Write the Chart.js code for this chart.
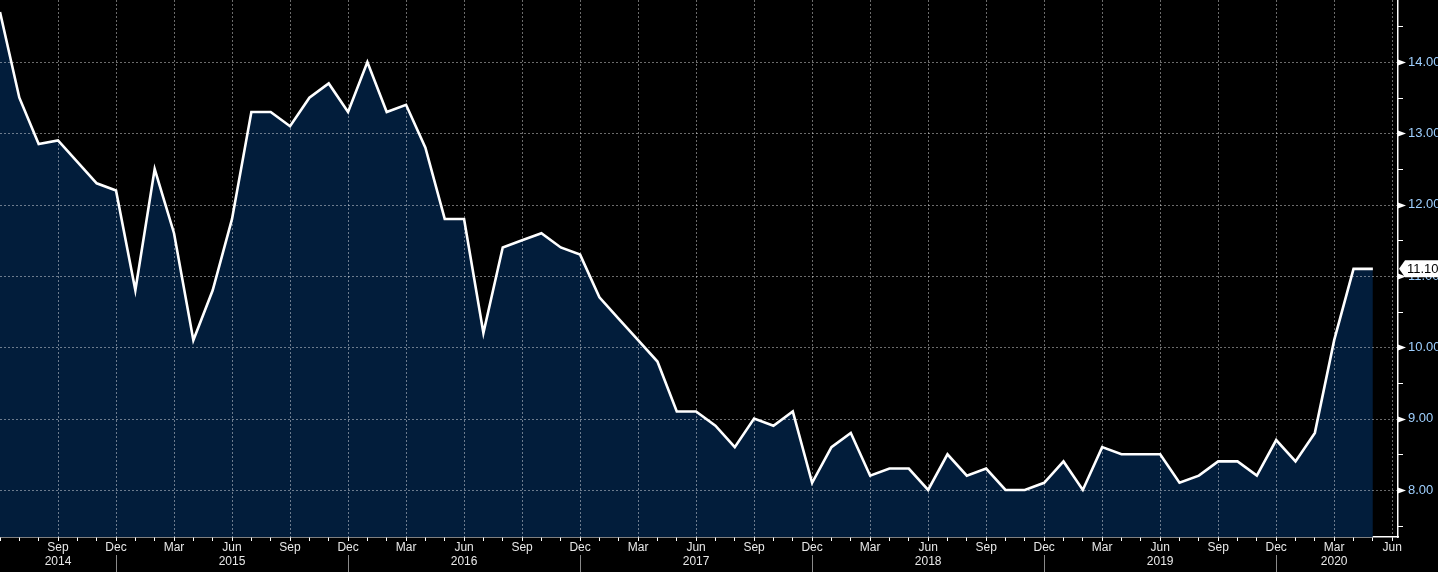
<!DOCTYPE html>
<html><head><meta charset="utf-8">
<script src="https://cdn.jsdelivr.net/npm/chart.js@4.4.1/dist/chart.umd.min.js"></script>
<style>html,body{margin:0;padding:0;background:#000;overflow:hidden}canvas{display:block;background:#000}</style>
</head><body>
<canvas id="c" width="1438" height="572"></canvas>
<script>
const monthNames = ['Jan','Feb','Mar','Apr','May','Jun','Jul','Aug','Sep','Oct','Nov','Dec'];
const startYear = 2014;
const startMonth = 5; // June 2014
const v2014 = [14.7, 13.5, 12.85, 12.9, 12.6, 12.3, 12.2];
const v2015 = [10.8, 12.5, 11.6, 10.1, 10.8, 11.8, 13.3, 13.3, 13.1, 13.5, 13.7, 13.3];
const v2016 = [14.0, 13.3, 13.4, 12.8, 11.8, 11.8, 10.2, 11.4, 11.5, 11.6, 11.4, 11.3];
const v2017 = [10.7, 10.4, 10.1, 9.8, 9.1, 9.1, 8.9, 8.6, 9.0, 8.9, 9.1, 8.1];
const v2018 = [8.6, 8.8, 8.2, 8.3, 8.3, 8.0, 8.5, 8.2, 8.3, 8.0, 8.0, 8.1];
const v2019 = [8.4, 8.0, 8.6, 8.5, 8.5, 8.5, 8.1, 8.2, 8.4, 8.4, 8.2, 8.7];
const v2020 = [8.4, 8.8, 10.1, 11.1, 11.1];
const values = [].concat(v2014, v2015, v2016, v2017, v2018, v2019, v2020);
const categories = values.map((_, i) => {
  const m = startMonth + i;
  return monthNames[m % 12] + ' ' + (startYear + Math.floor(m / 12));
});
const yearLabels = ['2014', '2015', '2016', '2017', '2018', '2019', '2020'];
const yTickValues = [7.5, 8, 8.5, 9, 9.5, 10, 10.5, 11, 11.5, 12, 12.5, 13, 13.5, 14, 14.5];
const lastLabel = values[values.length - 1].toFixed(2);

const X_MAX = 72.3;
const nTicks = 72;
const yearAt = {};
yearLabels.forEach(y => {
  const yr = parseInt(y, 10);
  const a = Math.max(0, (yr - startYear) * 12 - startMonth);
  const b = Math.min(nTicks, (yr - startYear) * 12 - startMonth + 11);
  const c = Math.round(((a + b) / 2) / 3) * 3;
  yearAt[c] = y;
});
function monthOf(i) { return monthNames[(startMonth + i) % 12]; }

const FONT = '"Liberation Sans", Arial, sans-serif';

const gridPlugin = {
  id: 'bbgrid',
  beforeDatasetDraw(chart) {
    const {ctx, chartArea: a, scales: {x, y}} = chart;
    ctx.save();
    ctx.strokeStyle = 'rgba(255,255,255,0.42)';
    ctx.lineWidth = 1;
    ctx.setLineDash([2, 2]);
    for (let v = 8; v <= 14; v++) {
      const py = Math.round(y.getPixelForValue(v)) + 0.5;
      ctx.beginPath(); ctx.moveTo(a.left, py); ctx.lineTo(a.right, py); ctx.stroke();
    }
    for (let i = 3; i <= nTicks; i += 3) {
      const px = Math.round(x.getPixelForValue(i)) + 0.5;
      ctx.beginPath(); ctx.moveTo(px, a.top); ctx.lineTo(px, a.bottom + 4); ctx.stroke();
    }
    ctx.restore();
  },
  afterDraw(chart) {
    const {ctx, chartArea: a, scales: {x, y}} = chart;
    ctx.save();
    ctx.fillStyle = '#fff';
    ctx.strokeStyle = '#fff';
    ctx.lineWidth = 1;
    yTickValues.forEach(v => {
      const py = Math.round(y.getPixelForValue(v));
      if (Number.isInteger(v)) {
        ctx.beginPath();
        ctx.moveTo(a.right, py - 2.5);
        ctx.lineTo(a.right + 8, py + 0.5);
        ctx.lineTo(a.right, py + 3.5);
        ctx.closePath(); ctx.fill();
      } else {
        ctx.beginPath(); ctx.moveTo(a.right, py + 0.5); ctx.lineTo(a.right + 5, py + 0.5); ctx.stroke();
      }
    });
    ctx.strokeStyle = '#8a8a8a';
    for (let i = 0; i <= nTicks; i++) {
      if (monthOf(i) === 'Dec') {
        const px = Math.round(x.getPixelForValue(i)) + 0.5;
        ctx.beginPath(); ctx.moveTo(px, 555); ctx.lineTo(px, 572); ctx.stroke();
      }
    }
    const py = y.getPixelForValue(values[values.length - 1]);
    const L = a.right + 1, h = 8.5;
    ctx.fillStyle = '#fff';
    ctx.beginPath();
    ctx.moveTo(L, py);
    ctx.lineTo(L + 6, py - h);
    ctx.lineTo(1442, py - h);
    ctx.lineTo(1442, py + h);
    ctx.lineTo(L + 6, py + h);
    ctx.closePath(); ctx.fill();
    ctx.fillStyle = '#000';
    ctx.font = '13px ' + FONT;
    ctx.textBaseline = 'middle';
    ctx.textAlign = 'left';
    ctx.fillText(lastLabel, L + 8, py + 0.5);
    ctx.restore();
  }
};

new Chart(document.getElementById('c'), {
  type: 'line',
  data: {
    labels: categories,
    datasets: [{
      data: values.map((v, i) => ({x: i, y: v})),
      borderColor: '#ffffff',
      borderWidth: 2.6,
      backgroundColor: '#021d3b',
      fill: 'start',
      pointRadius: 0,
      tension: 0,
      borderJoinStyle: 'miter'
    }]
  },
  options: {
    responsive: false,
    animation: false,
    devicePixelRatio: 1,
    layout: {padding: 0},
    plugins: {legend: {display: false}, tooltip: {enabled: false}},
    scales: {
      x: {
        type: 'linear', min: 0, max: X_MAX,
        afterBuildTicks: s => { const t = []; for (let i = 0; i <= nTicks; i++) t.push({value: i}); s.ticks = t; },
        afterFit: s => { s.height = 35; s.paddingLeft = 0; s.paddingRight = 0; s.paddingTop = 0; s.paddingBottom = 0; },
        grid: {display: true, drawOnChartArea: false, drawTicks: true, tickLength: 4, color: '#ffffff', lineWidth: 1},
        border: {display: true, color: '#ffffff', width: 1.5},
        ticks: {
          autoSkip: false, maxRotation: 0, minRotation: 0, padding: 0,
          color: '#e8e8e8', font: {family: FONT, size: 12, lineHeight: 1.15},
          callback: (v) => {
            const i = Math.round(v);
            if (i === 0 || i % 3 !== 0) return '';
            return yearAt[i] ? [monthOf(i), yearAt[i]] : monthOf(i);
          }
        }
      },
      y: {
        position: 'right', min: 7.34, max: 14.87,
        afterBuildTicks: s => { s.ticks = yTickValues.map(v => ({value: v})); },
        afterFit: s => { s.width = 40; s.paddingTop = 0; s.paddingBottom = 0; s.paddingLeft = 0; s.paddingRight = 0; },
        grid: {display: true, drawOnChartArea: false, drawTicks: true, tickLength: 4, color: 'rgba(0,0,0,0)'},
        border: {display: true, color: '#ffffff', width: 1.5},
        ticks: {
          padding: 6, color: '#9fd0ff', font: {family: FONT, size: 13},
          callback: v => Number.isInteger(v) ? v.toFixed(2) : ''
        }
      }
    }
  },
  plugins: [gridPlugin]
});
</script>
</body></html>
